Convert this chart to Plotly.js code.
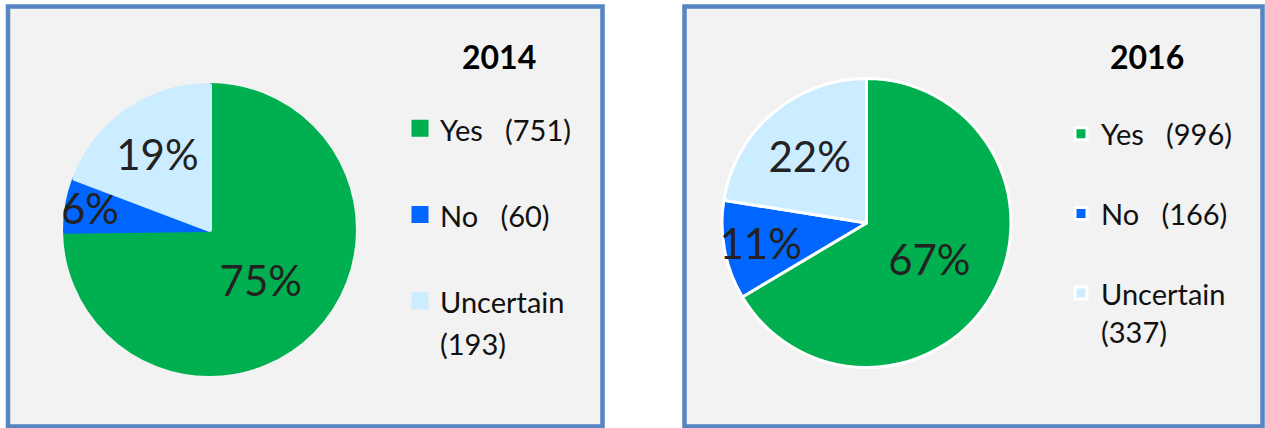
<!DOCTYPE html>
<html>
<head>
<meta charset="utf-8">
<script src="https://cdn.plot.ly/plotly-3.0.1.min.js"></script>
<style>html,body{margin:0;padding:0;background:#fff;}#chart{width:1265px;height:428px;}</style>
</head>
<body>
<div id="chart"></div>
<script>
// ---- data ----
var categories = ['Yes', 'No', 'Uncertain'];
var values2014 = [751, 60, 193];
var values2016 = [996, 166, 337];
var pctLabels2014 = ['75%', '6%', '19%'];
var pctLabels2016 = ['67%', '11%', '22%'];
var years = ['2014', '2016'];
var sliceColors = ['#00B050', '#0066FF', '#CCECFF'];

var W = 1265, H = 428;
function px(x) { return x / W; }
function py(y) { return 1 - y / H; }

function legendLabels(vals, visSize) {
  var open = '<span style="font-size:' + visSize + 'px">';
  return categories.map(function (c, i) {
    if (c === 'Uncertain') return open + c + '</span><br>' + open + '(' + vals[i] + ')</span>';
    return open + c + '   (' + vals[i] + ')</span><br> ';
  });
}

var labelFont = {family: 'Lato, sans-serif', size: 42, color: '#222222'};

var trace2014 = {
  type: 'pie',
  labels: legendLabels(values2014, 29),
  values: values2014,
  text: pctLabels2014,
  textinfo: 'text',
  textposition: 'inside',
  insidetextorientation: 'horizontal',
  insidetextfont: labelFont,
  sort: false,
  direction: 'clockwise',
  rotation: 0,
  marker: {colors: sliceColors, line: {width: 5, color: sliceColors}},
  domain: {x: [px(65.5), px(353.5)], y: [py(373.5), py(85.5)]},
  legend: 'legend',
  hoverinfo: 'skip'
};

var trace2016 = {
  type: 'pie',
  labels: legendLabels(values2016, 29),
  values: values2016,
  text: pctLabels2016,
  textinfo: 'text',
  textposition: 'inside',
  insidetextorientation: 'horizontal',
  insidetextfont: labelFont,
  sort: false,
  direction: 'clockwise',
  rotation: 0,
  marker: {colors: sliceColors, line: {width: 3, color: '#FFFFFF'}},
  domain: {x: [px(722), px(1011)], y: [py(367.5), py(78.5)]},
  legend: 'legend2',
  hoverinfo: 'skip'
};

var borderColor = '#5585C2';
var layout = {
  width: W, height: H,
  margin: {l: 0, r: 0, t: 0, b: 0},
  paper_bgcolor: '#FFFFFF',
  font: {family: 'Lato, sans-serif', color: '#111111'},
  uniformtext: {mode: 'show', minsize: 42},
  shapes: [
    {type: 'rect', xref: 'paper', yref: 'paper', x0: px(8), x1: px(602.5), y0: py(426.5), y1: py(6.5),
     fillcolor: '#F2F2F2', line: {color: borderColor, width: 4.5}, layer: 'below'},
    {type: 'rect', xref: 'paper', yref: 'paper', x0: px(684.5), x1: px(1262.5), y0: py(426.5), y1: py(6.5),
     fillcolor: '#F2F2F2', line: {color: borderColor, width: 4.5}, layer: 'below'}
  ],
  annotations: [
    {text: '<b>' + years[0] + '</b>', xref: 'paper', yref: 'paper', x: px(499), y: py(57), xanchor: 'center', yanchor: 'middle',
     showarrow: false, font: {family: 'Lato, sans-serif', size: 32, color: '#000000'}},
    {text: '<b>' + years[1] + '</b>', xref: 'paper', yref: 'paper', x: px(1147), y: py(56), xanchor: 'center', yanchor: 'middle',
     showarrow: false, font: {family: 'Lato, sans-serif', size: 32, color: '#000000'}}
  ],
  legend: {
    x: px(400), y: py(101), xanchor: 'left', yanchor: 'top',
    bgcolor: 'rgba(0,0,0,0)', borderwidth: 0,
    font: {family: 'Lato, sans-serif', size: 32, color: '#111111'},
    valign: 'top', traceorder: 'normal'
  },
  legend2: {
    x: px(1061), y: py(108), xanchor: 'left', yanchor: 'top',
    bgcolor: 'rgba(0,0,0,0)', borderwidth: 0,
    font: {family: 'Lato, sans-serif', size: 29.5, color: '#111111'},
    valign: 'top', traceorder: 'normal'
  },
  showlegend: true
};

Plotly.newPlot('chart', [trace2014, trace2016], layout, {displayModeBar: false, staticPlot: true});
</script>
</body>
</html>
